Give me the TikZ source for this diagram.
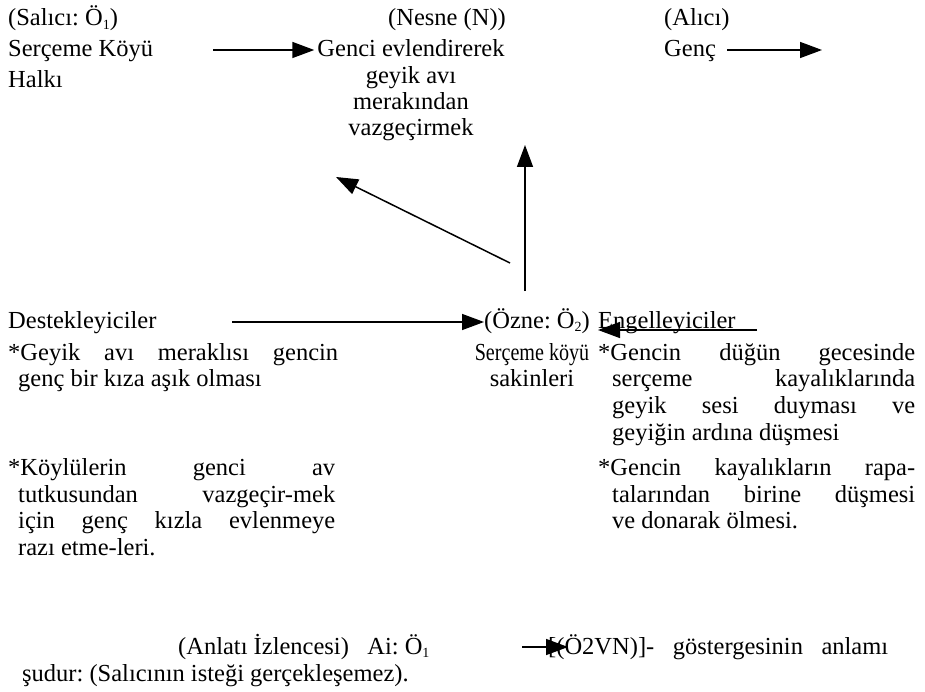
\documentclass[tikz,border=0pt]{standalone}
\usepackage{fontspec}
\setmainfont{Liberation Serif}
\usetikzlibrary{arrows.meta}
\newcommand{\jline}[2]{\makebox[#1][s]{#2}}
\newcommand{\subnum}[1]{\raisebox{-0.3ex}{\fontsize{14}{14}\selectfont #1}}
\begin{document}
\frenchspacing
\begin{tikzpicture}[x=1pt,y=-1pt,
  txt/.style={inner sep=0pt, anchor=base west, font=\fontsize{24.5}{26}\selectfont\frenchspacing},
  ctxt/.style={txt, anchor=base},
  arr/.style={line width=1.5pt, -{Triangle[length=22pt,width=16pt]}}]
\useasboundingbox (0,0) rectangle (925,692);
% top row
\node[txt] (salici) at (8,26) {(Salıcı: Ö\subnum{1})};
\node[txt] (nesne) at (388,26) {(Nesne (N))};
\node[txt] (alici) at (664,26) {(Alıcı)};
\node[txt] (halk1) at (8,57) {Serçeme Köyü};
\node[txt] (halk2) at (8,88) {Halkı};
\node[ctxt] (n1) at (411,57) {Genci evlendirerek};
\node[ctxt] (n2) at (411,84) {geyik avı};
\node[ctxt] (n3) at (411,110) {merakından};
\node[ctxt] (n4) at (411,136) {vazgeçirmek};
\node[txt] (genc) at (664,57) {Genç};
\coordinate (a1s) at (213,50);
\coordinate (a2s) at (727,50);
\coordinate (a2e) at (822,50);
\draw[arr] (a1s) -- ([xshift=-3pt]n1.west |- a1s);
\draw[arr] (a2s) -- (a2e);
% middle arrows
\coordinate (d1) at (510,263);
\coordinate (d2) at (336,177);
\coordinate (v1) at (525,291);
\coordinate (v2) at (525,145);
\draw[arr] (d1) -- (d2);
\draw[arr] (v1) -- (v2);
% actants row
\node[txt] (destek) at (8,328) {Destekleyiciler};
\node[txt] (ozne) at (484,328) {(Özne: Ö\subnum{2})};
\node[txt] (engel) at (598,328) {Engelleyiciler};
\coordinate (b1s) at (232,322);
\draw[arr] (b1s) -- (ozne.west |- b1s);
\coordinate (e1s) at (757,330);
\coordinate (e1e) at (598,330);
\draw[arr] (e1s) -- (e1e);
% left block
\node[txt] (l1) at (8,360) {\jline{330pt}{*Geyik avı meraklısı gencin}};
\node[txt] (l2) at (18,386) {genç bir kıza aşık olması};
\node[txt] (l3) at (8,475) {\jline{327pt}{*Köylülerin genci av}};
\node[txt] (l4) at (18,502) {\jline{317pt}{tutkusundan vazgeçir-mek}};
\node[txt] (l5) at (18,528) {\jline{317pt}{için genç kızla evlenmeye}};
\node[txt] (l6) at (18,555) {razı etme-leri.};
% middle block
\node[ctxt] (m1) at (532,360) {\scalebox{0.82}[1]{Serçeme köyü}};
\node[ctxt] (m2) at (532,386) {sakinleri};
% right block
\node[txt] (r1) at (598,360) {\jline{317pt}{*Gencin düğün gecesinde}};
\node[txt] (r2) at (612,386) {\jline{303pt}{serçeme kayalıklarında}};
\node[txt] (r3) at (612,413) {\jline{303pt}{geyik sesi duyması ve}};
\node[txt] (r4) at (612,440) {geyiğin ardına düşmesi};
\node[txt] (r5) at (598,475) {\jline{317pt}{*Gencin kayalıkların rapa-}};
\node[txt] (r6) at (612,502) {\jline{303pt}{talarından birine düşmesi}};
\node[txt] (r7) at (612,528) {ve donarak ölmesi.};
% bottom
\node[txt] (ai) at (178,654) {(Anlatı İzlencesi)\hspace{0.5em} Ai: Ö\subnum{1}};
\node[txt] (gost) at (548,654) {\jline{340pt}{[(Ö2VN)]- göstergesinin anlamı}};
\node[txt] (sud) at (22,681) {şudur: (Salıcının isteği gerçekleşemez).};
\coordinate (c1s) at (522,647);
\coordinate (c1e) at (568,647);
\draw[arr] (c1s) -- (c1e);
\end{tikzpicture}
\end{document}
